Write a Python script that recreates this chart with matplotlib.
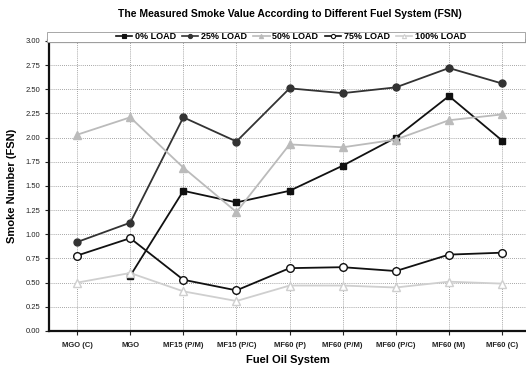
import matplotlib
matplotlib.use("Agg")
import matplotlib.pyplot as plt
from matplotlib.lines import Line2D
from matplotlib.patches import Rectangle

categories = ["MGO (C)", "MGO", "MF15 (P/M)", "MF15 (P/C)", "MF60 (P)",
              "MF60 (P/M)", "MF60 (P/C)", "MF60 (M)", "MF60 (C)"]
load_0 = [None, 0.57, 1.45, 1.33, 1.45, 1.71, 2.00, 2.43, 1.97]
load_25 = [0.92, 1.12, 2.21, 1.96, 2.51, 2.46, 2.52, 2.72, 2.56]
load_50 = [2.03, 2.21, 1.69, 1.23, 1.93, 1.90, 1.98, 2.18, 2.24]
load_75 = [0.78, 0.96, 0.53, 0.42, 0.65, 0.66, 0.62, 0.79, 0.81]
load_100 = [0.50, 0.60, 0.41, 0.31, 0.47, 0.47, 0.45, 0.51, 0.49]
labels = ["0% LOAD", "25% LOAD", "50% LOAD", "75% LOAD", "100% LOAD"]
yticks = [0.00, 0.25, 0.50, 0.75, 1.00, 1.25, 1.50, 1.75, 2.00, 2.25, 2.50, 2.75, 3.00]

plt.rcParams["font.family"] = ["Liberation Sans", "DejaVu Sans"]

fig = plt.figure(figsize=(5.26, 3.69), dpi=100)
ax = fig.add_axes([0.093, 0.103, 0.907, 0.786])

x = list(range(len(categories)))

def pts(vals):
    xs = [i for i, v in zip(x, vals) if v is not None]
    ys = [v for v in vals if v is not None]
    return xs, ys

styles = [
    dict(color="#111111", marker="s", mfc="#111111", mec="#111111", ms=5),
    dict(color="#333333", marker="o", mfc="#333333", mec="#333333", ms=5),
    dict(color="#bbbbbb", marker="^", mfc="#bbbbbb", mec="#bbbbbb", ms=5.5),
    dict(color="#111111", marker="o", mfc="white", mec="#111111", ms=5.5),
    dict(color="#cfcfcf", marker="^", mfc="white", mec="#cfcfcf", ms=5.5),
]
series = [load_0, load_25, load_50, load_75, load_100]
order = [4, 2, 3, 1, 0]
for k in order:
    xs, ys = pts(series[k])
    st = styles[k]
    ax.plot(xs, ys, color=st["color"], lw=1.3, marker=st["marker"],
            markerfacecolor=st["mfc"], markeredgecolor=st["mec"],
            markersize=st["ms"], markeredgewidth=1.0, zorder=3 + k)

ax.set_xlim(-0.53, 8.45)
ax.set_ylim(0, 3.0)
ax.set_yticks(yticks)
ax.set_yticklabels([f"{t:.2f}" for t in yticks], fontsize=5.5, color="#222222")
ax.set_xticks(x)
ax.set_xticklabels(categories, fontsize=5.5, fontweight="bold", color="#222222")
ax.tick_params(axis="both", length=3, width=0.8, color="#222222", pad=3)
ax.tick_params(axis="x", pad=5)

ax.grid(True, color="#888888", linestyle=(0, (1, 1.5)), linewidth=0.6)
ax.set_axisbelow(True)

ax.spines["right"].set_visible(False)
ax.spines["left"].set_linewidth(1.6)
ax.spines["bottom"].set_linewidth(1.6)
ax.spines["left"].set_color("#111111")
ax.spines["bottom"].set_color("#111111")
ax.spines["top"].set_color("#777777")
ax.spines["top"].set_linewidth(3)

ax.set_ylabel("Smoke Number (FSN)", fontsize=8, fontweight="bold", labelpad=6)
ax.set_xlabel("Fuel Oil System", fontsize=8, fontweight="bold", labelpad=4)
fig.text(0.551, 0.962, "The Measured Smoke Value According to Different Fuel System (FSN)",
         ha="center", va="center", fontsize=7.5, fontweight="bold")

# legend strip across the top of the plot area
fig.patches.append(Rectangle((0.089, 0.887), 0.91, 0.026, transform=fig.transFigure,
                             facecolor="white", edgecolor="#999999", linewidth=0.6,
                             zorder=1))

handles = []
for k in range(5):
    st = styles[k]
    handles.append(Line2D([0], [0], color=st["color"], lw=1.2, marker=st["marker"],
                          markerfacecolor=st["mfc"], markeredgecolor=st["mec"],
                          markersize=3, markeredgewidth=0.8))
leg = fig.legend(handles, labels, loc="center", bbox_to_anchor=(0.553, 0.902),
                 ncol=5, frameon=False, prop={"size": 6.5, "weight": "bold"},
                 handlelength=1.8, handletextpad=0.3, columnspacing=0.7,
                 borderpad=0.0)

fig.savefig("out.png", dpi=100)
